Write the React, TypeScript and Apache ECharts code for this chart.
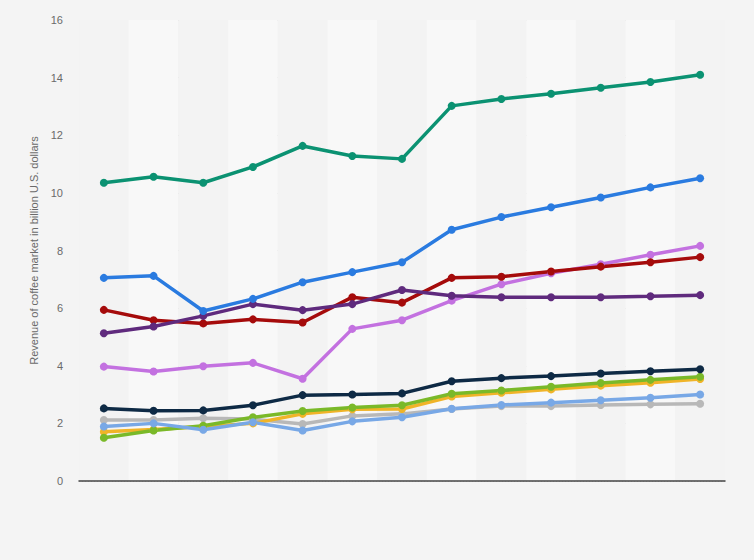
import React, { useEffect, useRef } from "react";
import * as echarts from "echarts";

const categories = ["2013", "2014", "2015", "2016", "2017", "2018", "2019", "2020", "2021", "2022", "2023", "2024", "2025"];

const seriesGray = [2.12, 2.12, 2.18, 2.15, 1.98, 2.26, 2.33, 2.5, 2.6, 2.6, 2.64, 2.66, 2.68];
const seriesYellow = [1.71, 1.79, 1.89, 2.0, 2.33, 2.49, 2.5, 2.93, 3.06, 3.18, 3.31, 3.41, 3.54];
const seriesLime = [1.5, 1.75, 1.92, 2.21, 2.43, 2.55, 2.63, 3.03, 3.14, 3.27, 3.4, 3.51, 3.62];
const seriesLightBlue = [1.89, 2.0, 1.78, 2.04, 1.75, 2.07, 2.21, 2.51, 2.64, 2.72, 2.8, 2.89, 3.0];
const seriesNavy = [2.52, 2.44, 2.45, 2.63, 2.98, 3.0, 3.04, 3.46, 3.57, 3.64, 3.73, 3.81, 3.88];
const seriesViolet = [3.97, 3.8, 3.98, 4.1, 3.55, 5.28, 5.58, 6.26, 6.83, 7.21, 7.52, 7.85, 8.16];
const seriesRed = [5.94, 5.58, 5.47, 5.61, 5.5, 6.38, 6.19, 7.05, 7.09, 7.27, 7.44, 7.59, 7.77];
const seriesPurple = [5.13, 5.36, 5.73, 6.14, 5.93, 6.14, 6.63, 6.43, 6.38, 6.38, 6.38, 6.41, 6.45];
const seriesBlue = [7.05, 7.12, 5.9, 6.32, 6.9, 7.25, 7.59, 8.72, 9.16, 9.5, 9.84, 10.19, 10.51];
const seriesGreen = [10.35, 10.56, 10.35, 10.9, 11.63, 11.28, 11.18, 13.02, 13.26, 13.44, 13.65, 13.85, 14.1];

const yTicks = { min: 0, max: 16, interval: 2 };

const lines: { data: number[]; color: string }[] = [
  { data: seriesGray, color: "#b8b8b8" },
  { data: seriesYellow, color: "#f0b428" },
  { data: seriesLime, color: "#7ab929" },
  { data: seriesLightBlue, color: "#78a8e6" },
  { data: seriesNavy, color: "#0e2a45" },
  { data: seriesViolet, color: "#c371e0" },
  { data: seriesRed, color: "#a50b0b" },
  { data: seriesPurple, color: "#5f2a7d" },
  { data: seriesBlue, color: "#2a7be0" },
  { data: seriesGreen, color: "#0b9272" },
];

export default function App() {
  const ref = useRef<HTMLDivElement>(null);
  useEffect(() => {
    if (!ref.current) return;
    const chart = echarts.init(ref.current, null, { renderer: "svg" });
    chart.setOption({
      animation: false,
      backgroundColor: "#f4f4f4",
      grid: { left: 79, right: 29, top: 20, bottom: 79 },
      xAxis: {
        type: "category",
        data: categories,
        boundaryGap: true,
        axisLine: { show: true, lineStyle: { color: "#444", width: 1.5 } },
        axisTick: { show: false },
        axisLabel: { show: false },
        splitLine: { show: false },
        splitArea: { show: true, areaStyle: { color: ["#f3f3f3", "#f8f8f8"] } },
      },
      yAxis: {
        type: "value",
        min: yTicks.min,
        max: yTicks.max,
        interval: yTicks.interval,
        name: "Revenue of coffee market in billion U.S. dollars",
        nameLocation: "middle",
        nameGap: 39,
        nameTextStyle: { color: "#6a6a6a", fontSize: 11, fontFamily: "Arial, Liberation Sans, sans-serif" },
        axisLine: { show: false },
        axisTick: { show: false },
        axisLabel: { color: "#6a6a6a", fontSize: 11, margin: 16, fontFamily: "Arial, Liberation Sans, sans-serif" },
        splitLine: { show: true, lineStyle: { color: "#d6d6d6", type: [1, 2], width: 1 } },
      },
      series: lines.map((l) => ({
        type: "line",
        data: l.data,
        symbol: "circle",
        symbolSize: 8,
        showSymbol: true,
        lineStyle: { color: l.color, width: 3.5 },
        itemStyle: { color: l.color },
        emphasis: { disabled: true },
      })),
    });
    return () => chart.dispose();
  }, []);
  return <div ref={ref} style={{ width: 754, height: 560, position: "absolute", left: 0, top: 0 }} />;
}
